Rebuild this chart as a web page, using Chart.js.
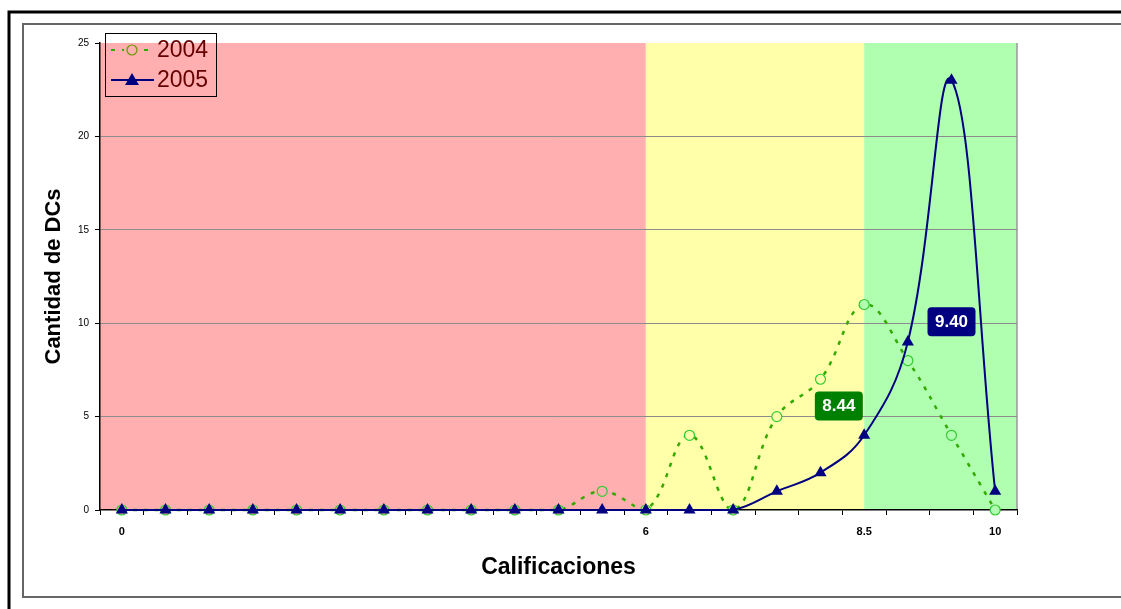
<!DOCTYPE html>
<html>
<head>
<meta charset="utf-8">
<script src="https://cdn.jsdelivr.net/npm/chart.js@4.4.1/dist/chart.umd.min.js"></script>
<style>
  body { margin: 0; background: #fff; }
  canvas { display: block; }
</style>
</head>
<body>
<canvas id="chart" width="1121" height="609"></canvas>
<script>
// ===== DATA =====
const categories = ['0', '0.5', '1', '1.5', '2', '2.5', '3', '3.5', '4', '4.5', '5', '5.5',
                    '6', '6.5', '7', '7.5', '8', '8.5', '9', '9.5', '10'];
const shownTicks = ['0', '6', '8.5', '10'];
const values2004 = [0, 0, 0, 0, 0, 0, 0, 0, 0, 0, 0, 1, 0, 4, 0, 5, 7, 11, 8, 4, 0];
const values2005 = [0, 0, 0, 0, 0, 0, 0, 0, 0, 0, 0, 0, 0, 0, 0, 1, 2, 4, 9, 23, 1];
const bandEdges = ['6', '8.5'];
const bandColors = ['#ffafaf', '#ffffaa', '#b0ffb0'];
const averages = ['8.44', '9.40'];

const FONT = '"Liberation Sans", Arial, sans-serif';

function bandColorAt(i) {
    if (i < categories.indexOf(bandEdges[0])) return bandColors[0];
    if (i < categories.indexOf(bandEdges[1])) return bandColors[1];
    return bandColors[2];
}

// ===== PLUGINS =====
const framePlugin = {
    id: 'frame',
    beforeDraw(chart) {
        const ctx = chart.ctx;
        const x = chart.scales.x;
        const a = chart.chartArea;
        ctx.save();
        ctx.fillStyle = '#fff';
        ctx.fillRect(0, 0, chart.width, chart.height);

        // outer frames
        ctx.strokeStyle = '#000';
        ctx.lineWidth = 3;
        ctx.beginPath();
        ctx.moveTo(chart.width, 12); ctx.lineTo(9, 12); ctx.lineTo(9, chart.height);
        ctx.stroke();
        ctx.strokeStyle = '#666';
        ctx.lineWidth = 2;
        ctx.beginPath();
        ctx.moveTo(chart.width, 24); ctx.lineTo(23, 24); ctx.lineTo(23, 597); ctx.lineTo(chart.width, 597);
        ctx.stroke();

        // colour bands
        const x1 = x.getPixelForValue(categories.indexOf(bandEdges[0]));
        const x2 = x.getPixelForValue(categories.indexOf(bandEdges[1]));
        ctx.fillStyle = bandColors[0];
        ctx.fillRect(a.left, a.top, x1 - a.left, a.bottom - a.top);
        ctx.fillStyle = bandColors[1];
        ctx.fillRect(x1, a.top, x2 - x1, a.bottom - a.top);
        ctx.fillStyle = bandColors[2];
        ctx.fillRect(x2, a.top, a.right - x2, a.bottom - a.top);

        ctx.strokeStyle = '#999';
        ctx.lineWidth = 1.5;
        ctx.beginPath();
        ctx.moveTo(a.right, a.top); ctx.lineTo(a.right, a.bottom);
        ctx.stroke();
        ctx.restore();
    },
    afterDatasetsDraw(chart) {
        const ctx = chart.ctx;
        const x = chart.scales.x;
        const y = chart.scales.y;

        // average labels
        const boxes = [
            { text: averages[0], cx: x.getPixelForValue(16.42), cy: y.getPixelForValue(5.6), color: '#008000' },
            { text: averages[1], cx: x.getPixelForValue(19.0), cy: y.getPixelForValue(10.1), color: '#000080' }
        ];
        ctx.save();
        ctx.font = 'bold 17px ' + FONT;
        ctx.textAlign = 'center';
        ctx.textBaseline = 'middle';
        boxes.forEach(b => {
            ctx.fillStyle = b.color;
            ctx.beginPath();
            ctx.roundRect(b.cx - 24, b.cy - 14, 48, 29, 4);
            ctx.fill();
            ctx.fillStyle = '#fff';
            ctx.fillText(b.text, b.cx, b.cy + 1);
        });

        // legend
        ctx.strokeStyle = '#000';
        ctx.lineWidth = 1;
        ctx.strokeRect(105.5, 33.5, 111, 63);
        chart.data.datasets.forEach((ds, i) => {
            const ly = 50 + i * 30;
            ctx.strokeStyle = ds.borderColor;
            ctx.lineWidth = 2;
            ctx.setLineDash(ds.borderDash || []);
            ctx.beginPath();
            ctx.moveTo(111, ly); ctx.lineTo(154, ly);
            ctx.stroke();
            ctx.setLineDash([]);
            if (ds.pointStyle === 'circle') {
                ctx.fillStyle = ly < chart.chartArea.top ? '#fff' : bandColors[0];
                ctx.beginPath();
                ctx.arc(132, ly, 5, 0, Math.PI * 2);
                ctx.fill();
                ctx.fillRect(124, ly - 2, 16, 4);
                ctx.strokeStyle = '#669900';
                ctx.lineWidth = 1.2;
                ctx.beginPath();
                ctx.arc(132, ly, 5, 0, Math.PI * 2);
                ctx.stroke();
            } else {
                ctx.fillStyle = ds.pointBackgroundColor;
                ctx.beginPath();
                ctx.moveTo(132, ly - 7); ctx.lineTo(139, ly + 5); ctx.lineTo(125, ly + 5);
                ctx.closePath();
                ctx.fill();
            }
            ctx.fillStyle = '#660000';
            ctx.font = '23px ' + FONT;
            ctx.textAlign = 'left';
            ctx.fillText(ds.label, 157, ly + 1);
        });
        ctx.restore();
    }
};

// ===== CHART =====
new Chart(document.getElementById('chart'), {
    type: 'line',
    data: {
        labels: categories,
        datasets: [{
            label: '2004',
            data: values2004,
            borderColor: '#33aa00',
            borderWidth: 2.5,
            borderDash: [4, 7],
            pointStyle: 'circle',
            pointRadius: 5,
            pointBorderWidth: 1.2,
            pointBorderColor: '#33cc33',
            pointBackgroundColor: c => bandColorAt(c.dataIndex),
            tension: 0.4,
            clip: false,
            order: 1
        }, {
            label: '2005',
            data: values2005,
            borderColor: '#000080',
            borderWidth: 2,
            pointStyle: 'triangle',
            pointRadius: 7,
            pointBorderWidth: 0,
            pointBorderColor: '#000080',
            pointBackgroundColor: '#000080',
            tension: 0.4,
            clip: false,
            order: 0
        }]
    },
    options: {
        responsive: false,
        animation: false,
        layout: { padding: { left: 0, top: 43, right: 104, bottom: 0 } },
        plugins: { legend: { display: false }, tooltip: { enabled: false } },
        scales: {
            x: {
                offset: true,
                afterFit: s => { s.height = 99; },
                grid: { drawOnChartArea: false, offset: true, tickLength: 5, color: '#000' },
                border: { color: '#000', width: 1.5 },
                ticks: {
                    autoSkip: false,
                    maxRotation: 0,
                    padding: 10,
                    color: '#000',
                    font: { family: FONT, size: 11, weight: 'bold' },
                    callback: function (v) {
                        const l = this.getLabelForValue(v);
                        return shownTicks.includes(l) ? l : '';
                    }
                },
                title: {
                    display: true,
                    text: 'Calificaciones',
                    color: '#000',
                    padding: { top: 0, bottom: 28 },
                    font: { family: FONT, size: 23, weight: 'bold' }
                }
            },
            y: {
                min: 0,
                max: 25,
                afterFit: s => { s.width = 100; },
                grid: {
                    tickLength: 5,
                    tickColor: '#000',
                    lineWidth: 1,
                    color: c => (c.tick.value === 0 || c.tick.value === 25) ? 'rgba(0,0,0,0)' : '#8c8c8c'
                },
                border: { color: '#000', width: 1.5 },
                ticks: {
                    stepSize: 5,
                    padding: 6,
                    color: '#000',
                    font: { family: FONT, size: 10 }
                },
                title: {
                    display: true,
                    text: 'Cantidad de DCs',
                    color: '#000',
                    padding: { top: 41, bottom: 0 },
                    font: { family: FONT, size: 22, weight: 'bold' }
                }
            }
        }
    },
    plugins: [framePlugin]
});
</script>
</body>
</html>
